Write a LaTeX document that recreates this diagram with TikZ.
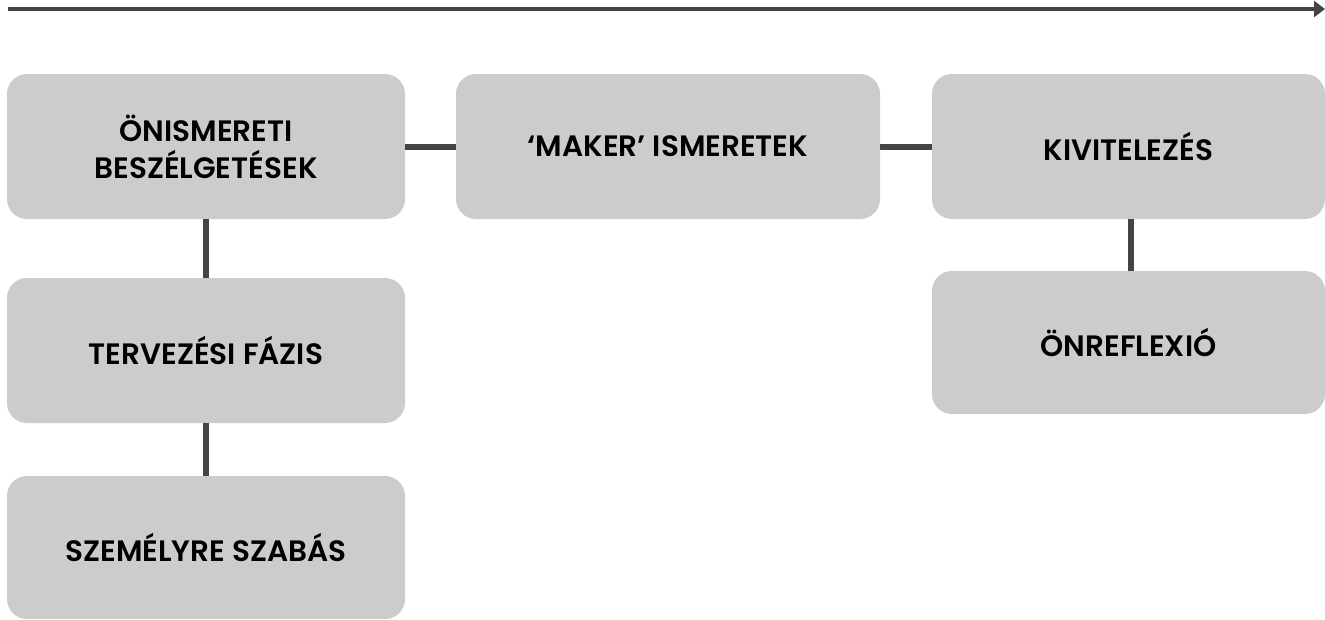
\documentclass[tikz,border=0pt]{standalone}
\usepackage{fontspec}
\setmainfont{Poppins}[UprightFont=* SemiBold, BoldFont=* SemiBold]
\usetikzlibrary{arrows.meta}
\definecolor{boxgray}{HTML}{CCCCCC}
\definecolor{linegray}{HTML}{444444}
\begin{document}
\begin{tikzpicture}[x=1pt,y=-1pt,
  card/.style={fill=boxgray, draw=none, rounded corners=20pt, inner sep=0pt,
    align=center, font=\fontsize{29.5}{37}\selectfont},
  link/.style={draw=linegray, line width=6pt}]
\useasboundingbox (0,0) rectangle (1325,619);
\fill[white] (0,0) rectangle (1325,619);
% timeline arrow
\coordinate (tstart) at (8,9);
\coordinate (tend) at (1325,9);
\draw[linegray, line width=4.5pt, -{Triangle[length=11pt,width=16pt]}] (tstart) -- (tend);
% boxes
\node[card, minimum width=398pt, minimum height=145pt] (onism) at (206,146.5) {ÖNISMERETI\\BESZÉLGETÉSEK};
\node[card, minimum width=424pt, minimum height=145pt] (maker) at (668,146.5) {‘MAKER’ ISMERETEK};
\node[card, minimum width=393pt, minimum height=145pt] (kivit) at (1128.5,146.5) {KIVITELEZÉS};
\node[card, minimum width=398pt, minimum height=145pt] (terv) at (206,350.5) {TERVEZÉSI FÁZIS};
\node[card, minimum width=398pt, minimum height=143pt] (szem) at (206,547.5) {SZEMÉLYRE SZABÁS};
\node[card, minimum width=393pt, minimum height=143pt] (onrefl) at (1128.5,342.5) {ÖNREFLEXIÓ};
% connectors
\draw[link] (onism.east) -- (maker.west);
\draw[link] (maker.east) -- (kivit.west);
\draw[link] (onism.south) -- (terv.north);
\draw[link] (terv.south) -- (szem.north);
\draw[link] ([xshift=2.5pt]kivit.south) -- ([xshift=2.5pt]onrefl.north);
\end{tikzpicture}
\end{document}
